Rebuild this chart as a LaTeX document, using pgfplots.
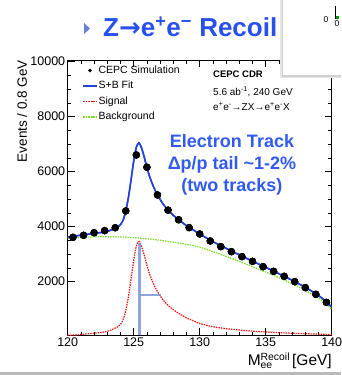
\documentclass[border=0pt]{standalone}
\usepackage{pgfplots}
\pgfplotsset{compat=1.18}
\usepackage{fontspec}
\setmainfont{Liberation Sans}
\newfontfamily\dejavu{DejaVu Sans}
\definecolor{titleblue}{RGB}{40,80,240}
\definecolor{textblue}{RGB}{50,90,240}
\definecolor{fitblue}{RGB}{35,65,215}
\definecolor{sigred}{RGB}{240,20,20}
\definecolor{bkggreen}{RGB}{120,225,40}
\definecolor{lineblue}{RGB}{125,150,215}
\definecolor{tri}{RGB}{100,130,210}

\pgfplotstableread{
x y
120.4 3612
121.2 3685
122.0 3780
122.8 3855
123.6 3960
124.4 4571
125.2 6607
126.0 6160
126.8 5153
127.6 4600
128.4 4250
129.2 3964
130.0 3733
130.8 3479
131.6 3273
132.4 3090
133.2 2909
134.0 2739
134.8 2545
135.6 2376
136.4 2194
137.2 2000
138.0 1782
138.8 1539
139.6 1248
}\datatable

\pgfplotstableread{
x y
120.0 3625
120.5 3655
121.0 3690
121.5 3722
122.0 3755
122.5 3785
123.0 3826
123.5 3922
123.8 3988
124.0 4075
124.2 4240
124.4 4565
124.6 5060
124.8 5705
125.0 6380
125.2 6892
125.4 7044
125.6 6856
125.8 6528
126.0 6160
126.2 5829
126.5 5452
126.8 5156
127.2 4841
127.6 4603
128.0 4415
128.4 4253
129.0 4035
129.5 3885
130.0 3735
131.0 3455
132.0 3210
133.0 2975
134.0 2745
135.0 2520
136.0 2290
137.0 2050
138.0 1793
138.5 1650
139.0 1497
139.5 1305
140.0 1078
}\fittable

\pgfplotstableread{
x y
120.0 50
120.5 60
121.0 80
121.5 100
122.0 125
122.5 150
123.0 190
123.5 290
123.8 360
124.0 450
124.2 620
124.4 950
124.6 1450
124.8 2100
125.0 2780
125.2 3300
125.4 3460
125.6 3280
125.8 2960
126.0 2600
126.2 2280
126.5 1920
126.8 1640
127.2 1350
127.6 1140
128.0 980
128.4 850
129.0 680
129.5 580
130.0 480
131.0 360
132.0 290
133.0 240
134.0 200
135.0 170
136.0 145
137.0 125
138.0 108
139.0 92
140.0 78
}\sigtable

\pgfplotstableread{
x y
120 3575
121 3610
122 3630
123 3636
124 3625
125 3600
126 3560
127 3505
128 3435
129 3355
130 3255
131 3095
132 2920
133 2735
134 2545
135 2350
136 2145
137 1925
138 1685
138.5 1550
139 1405
139.5 1220
140 1000
}\bkgtable

\begin{document}
\begin{tikzpicture}
\path[use as bounding box, fill=white] (0,0) rectangle (341pt,-375pt);
\fill[gray!55] (0,-371.5pt) rectangle (341pt,-375pt);
% title
\fill[tri] (84pt,-23pt) -- (84pt,-34pt) -- (90pt,-28.5pt) -- cycle;
\node[anchor=base west, inner sep=0pt, text=titleblue, font=\fontsize{26}{30}\selectfont\bfseries] at (103pt,-36.7pt)
  {Z{\dejavu\bfseries →}e\textsuperscript{+}e\textsuperscript{−} Recoil};

\begin{axis}[
  at={(67.7pt,-335pt)}, anchor=south west,
  width=264pt, height=275pt, scale only axis,
  xmin=120, xmax=140, ymin=60, ymax=10060,
  xtick={120,125,...,140}, ytick={2000,4000,...,10000},
  scaled y ticks=false, scaled x ticks=false,
  minor x tick num=4, minor y tick num=3,
  xtick pos=both, ytick pos=both, tick align=inside,
  major tick length=7pt, minor tick length=3.5pt,
  tick style={black, line width=0.5pt},
  axis line style={line width=0.8pt},
  /pgf/number format/assume math mode=true,
  /pgf/number format/set thousands separator={},
  ticklabel style={font=\fontsize{12.5}{14}\selectfont},
  xticklabel style={yshift=1pt},
  yticklabel style={xshift=1pt},
  clip=false,
  legend image code/.code={\draw[mark repeat=2,mark phase=2,#1] plot coordinates {(0pt,0pt)(7pt,0pt)(14pt,0pt)};},
  legend style={draw=none, fill=none, at={(axis description cs:0.055,0.985)}, anchor=north west,
    font=\fontsize{10.5}{12}\selectfont, row sep=3pt, inner sep=0pt,
    nodes={inner sep=1pt, text height=8pt, text depth=2.5pt}},
  legend cell align=left,
]
\addplot[only marks, mark=*, mark size=3.5pt, black, draw=black, fill=black,
  legend image post style={mark size=1.6pt}] table[x=x,y=y] {\datatable};
\addlegendentry{CEPC Simulation}
\addplot[color=fitblue, line width=1.5pt, smooth, tension=0.4, no marks,
  legend image post style={line width=1.2pt}] table[x=x,y=y] {\fittable};
\addlegendentry{S+B Fit}
\addplot[color=sigred, line width=1.2pt, dash pattern=on 1.5pt off 1pt, smooth, tension=0.4, no marks] table[x=x,y=y] {\sigtable};
\addlegendentry{Signal}
\addplot[color=bkggreen, line width=1.2pt, dash pattern=on 1.5pt off 1pt, smooth, tension=0.4, no marks] table[x=x,y=y] {\bkgtable};
\addlegendentry{Background}

\addplot[lineblue, opacity=0.85, line width=2.5pt, no marks, forget plot] coordinates {(125.45,60) (125.45,3420)};
\addplot[lineblue, opacity=0.85, line width=2.5pt, no marks, forget plot] coordinates {(125.45,1516) (127.07,1516)};
\addplot[color=fitblue, line width=1.5pt, smooth, tension=0.4, no marks, forget plot] table[x=x,y=y] {\fittable};
\addplot[only marks, mark=*, mark size=3.5pt, black, forget plot] table[x=x,y=y] {\datatable};
\end{axis}

% y label
\node[rotate=90, anchor=east, inner sep=0pt, font=\fontsize{13.5}{15}\selectfont] at (22pt,-60pt) {Events / 0.8  GeV};
% x label
\node[anchor=base east, inner sep=0pt, font=\fontsize{15.5}{17}\selectfont] at (332pt,-365pt)
  {M\rlap{\raisebox{-3.5pt}{\fontsize{10.4}{11}\selectfont ee}}\raisebox{4.5pt}{\fontsize{10.4}{11}\selectfont Recoil}\,[GeV]};
% CDR text
\node[anchor=base west, inner sep=0pt, font=\fontsize{9.5}{11}\selectfont\bfseries] at (213pt,-77pt) {CEPC CDR};
\node[anchor=base west, inner sep=0pt, font=\fontsize{10}{11}\selectfont] at (213pt,-95.5pt) {5.6 ab\textsuperscript{-1}, 240 GeV};
\node[anchor=base west, inner sep=0pt, font=\fontsize{10}{11}\selectfont] at (213pt,-110.5pt) {e\textsuperscript{+}e\textsuperscript{-}→ZX→e\textsuperscript{+}e\textsuperscript{-}X};
% blue text
\node[align=center, text=textblue, inner sep=0pt, font=\fontsize{18}{22}\selectfont\bfseries] at (232pt,-165pt)
  {Electron Track\\Δp/p tail \textasciitilde1-2\%\\(two tracks)};

% overlapping inset box of the slide
\fill[gray!20] (280pt,0) rectangle (341pt,-78pt);
\fill[gray!35] (281.5pt,0) rectangle (341pt,-76.5pt);
\fill[white] (283pt,0) rectangle (341pt,-75pt);
\draw[line width=0.5pt] (335.5pt,-6pt) -- (335.5pt,-19pt);
\fill[green!60!black] (336pt,-16pt) rectangle (338.5pt,-19pt);
\node[inner sep=0pt, font=\fontsize{8.5}{9}\selectfont] at (326pt,-20pt) {0};
\node[inner sep=0pt, font=\fontsize{8.5}{9}\selectfont] at (337pt,-24pt) {0};
\end{tikzpicture}
\end{document}
